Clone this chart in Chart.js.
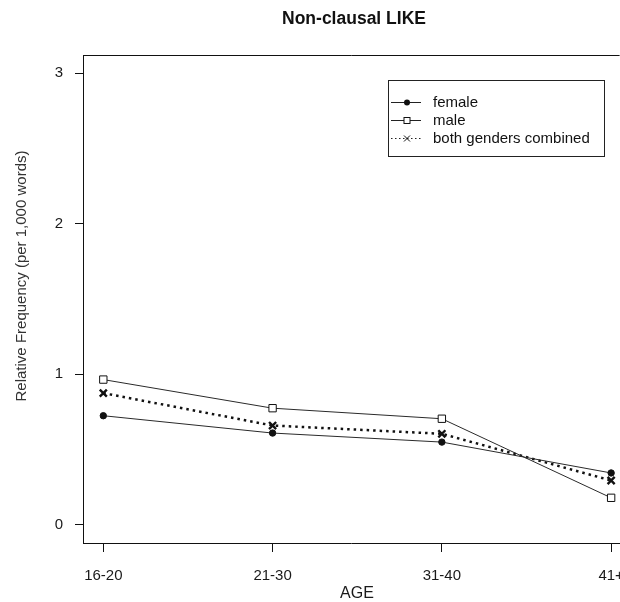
<!DOCTYPE html>
<html>
<head>
<meta charset="utf-8">
<script src="https://cdn.jsdelivr.net/npm/chart.js@4"></script>
<style>
  html, body { margin: 0; padding: 0; background: #fff; overflow: hidden; }
  #wrap { width: 620px; height: 602px; overflow: hidden; }
</style>
</head>
<body>
<!-- canvas is a little wider than the page: the original plot is cut off at the right -->
<div id="wrap"><canvas id="likeChart" width="627" height="602"></canvas></div>
<script>
// Data
const ageGroups = ['16-20', '21-30', '31-40', '41+'];
const female = [0.725, 0.61, 0.55, 0.345];
const male = [0.965, 0.775, 0.705, 0.18];
const combined = [0.875, 0.66, 0.605, 0.295];
const yTicks = [0, 1, 2, 3];

const FONT = "'Liberation Sans', Arial, sans-serif";

// turn a series into x/y points on the linear x scale (1..n)
function toPoints(values) {
    return values.map((v, i) => ({ x: i + 1, y: v }));
}

// Title, axis labels, top border line and the boxed legend
// (the original centres its titles on a plot region wider than the crop)
const decorPlugin = {
    id: 'decor',
    afterDraw(chart) {
        const ctx = chart.ctx;
        const area = chart.chartArea;
        ctx.save();

        // title
        ctx.fillStyle = '#111';
        ctx.font = 'bold 17.5px ' + FONT;
        ctx.textAlign = 'center';
        ctx.textBaseline = 'middle';
        ctx.fillText('Non-clausal LIKE', 354, 19);

        // x axis label
        ctx.fillStyle = '#1a1a1a';
        ctx.font = '16px ' + FONT;
        ctx.fillText('AGE', 357, 594);

        // y axis label
        ctx.save();
        ctx.translate(22, 276);
        ctx.rotate(-Math.PI / 2);
        ctx.fillStyle = '#333';
        ctx.font = '15px ' + FONT;
        ctx.fillText('Relative Frequency (per 1,000 words)', 0, 0);
        ctx.restore();

        // top edge of the plot box
        ctx.strokeStyle = '#111';
        ctx.lineWidth = 1;
        ctx.beginPath();
        ctx.moveTo(area.left, area.top + 0.5);
        ctx.lineTo(area.right, area.top + 0.5);
        ctx.stroke();

        // legend box
        ctx.strokeStyle = '#222';
        ctx.strokeRect(388.5, 80.5, 216, 76);

        ctx.font = '15px ' + FONT;
        ctx.textAlign = 'left';
        chart.data.datasets.forEach((ds, i) => {
            const y = 102 + i * 18;
            const dotted = !!ds.borderDash;
            ctx.strokeStyle = '#222';
            ctx.lineWidth = 1;
            ctx.setLineDash(dotted ? [1.5, 2.5] : []);
            ctx.beginPath();
            ctx.moveTo(391, y + 0.5);
            ctx.lineTo(421, y + 0.5);
            ctx.stroke();
            ctx.setLineDash([]);
            drawMarker(ctx, ds.pointStyle, 407, y + 0.5);
            ctx.fillStyle = '#111';
            ctx.fillText(ds.label, 433, y + 1);
        });
        ctx.restore();
    }
};

function drawMarker(ctx, style, x, y) {
    ctx.save();
    ctx.strokeStyle = '#111';
    ctx.fillStyle = '#111';
    if (style === 'circle') {
        ctx.beginPath();
        ctx.arc(x, y, 3, 0, Math.PI * 2);
        ctx.fill();
    } else if (style === 'rect') {
        ctx.fillStyle = '#fff';
        ctx.lineWidth = 1;
        ctx.fillRect(x - 3, y - 3, 6, 6);
        ctx.strokeRect(x - 3, y - 3, 6, 6);
    } else {
        ctx.lineWidth = 1;
        ctx.beginPath();
        ctx.moveTo(x - 3, y - 3); ctx.lineTo(x + 3, y + 3);
        ctx.moveTo(x + 3, y - 3); ctx.lineTo(x - 3, y + 3);
        ctx.stroke();
    }
    ctx.restore();
}

const ctx = document.getElementById('likeChart').getContext('2d');
Chart.defaults.font.family = FONT;
Chart.defaults.color = '#222';

new Chart(ctx, {
    type: 'line',
    data: {
        datasets: [
            {
                label: 'female',
                data: toPoints(female),
                borderColor: '#2a2a2a',
                borderWidth: 1,
                pointStyle: 'circle',
                pointRadius: 3.2,
                pointBackgroundColor: '#111',
                pointBorderColor: '#111',
                pointBorderWidth: 1
            },
            {
                label: 'male',
                data: toPoints(male),
                borderColor: '#2a2a2a',
                borderWidth: 1,
                pointStyle: 'rect',
                pointRadius: 5.2,
                pointBackgroundColor: '#fff',
                pointBorderColor: '#111',
                pointBorderWidth: 1
            },
            {
                label: 'both genders combined',
                data: toPoints(combined),
                borderColor: '#111',
                borderWidth: 2.5,
                borderDash: [2.5, 4],
                pointStyle: 'crossRot',
                pointRadius: 5,
                pointBorderColor: '#111',
                pointBorderWidth: 2.4
            }
        ]
    },
    options: {
        responsive: false,
        animation: false,
        events: [],
        layout: { padding: { top: 55, right: 0, left: 0, bottom: 0 } },
        plugins: {
            legend: { display: false },
            tooltip: { enabled: false }
        },
        scales: {
            x: {
                type: 'linear',
                min: 0.88,
                max: 4.05,
                afterFit: (scale) => {
                    scale.height = 59;
                    scale.paddingLeft = 0;
                    scale.paddingRight = 0;
                },
                afterBuildTicks: (scale) => {
                    scale.ticks = ageGroups.map((g, i) => ({ value: i + 1 }));
                },
                border: { display: true, color: '#111', width: 1 },
                grid: {
                    drawOnChartArea: false,
                    drawTicks: true,
                    tickLength: 9,
                    color: '#111'
                },
                ticks: {
                    padding: 15,
                    maxRotation: 0,
                    autoSkip: false,
                    font: { size: 15 },
                    color: '#1a1a1a',
                    callback: (v) => ageGroups[v - 1] || ''
                }
            },
            y: {
                min: -0.12,
                max: 3.12,
                afterFit: (scale) => { scale.width = 83; },
                afterBuildTicks: (scale) => {
                    scale.ticks = yTicks.map(v => ({ value: v }));
                },
                border: { display: true, color: '#111', width: 1 },
                grid: {
                    drawOnChartArea: false,
                    drawTicks: true,
                    tickLength: 8,
                    color: '#111'
                },
                ticks: {
                    padding: 12,
                    font: { size: 15 },
                    color: '#1a1a1a'
                }
            }
        }
    },
    plugins: [decorPlugin]
});
</script>
</body>
</html>
